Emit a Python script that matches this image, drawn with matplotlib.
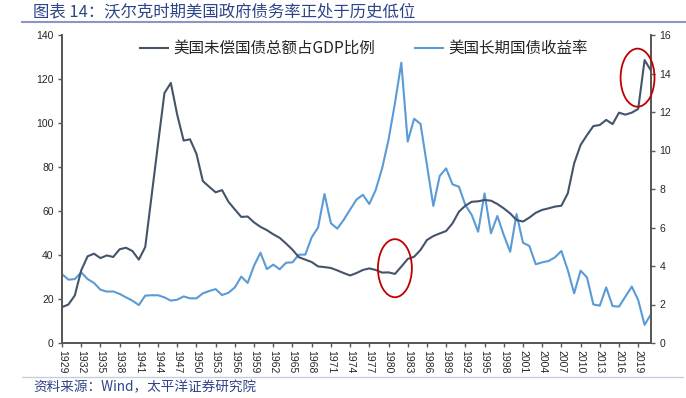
import matplotlib
matplotlib.use("Agg")
import matplotlib.pyplot as plt
from matplotlib.patches import Ellipse
from matplotlib.lines import Line2D

plt.rcParams['font.family'] = ['Liberation Sans', 'Noto Sans CJK SC', 'DejaVu Sans']

years = list(range(1929, 2022))
debt_gdp = [16.3, 17.5, 21.6, 33.0, 39.4, 40.6, 38.6, 39.8, 39.1, 42.6,
            43.3, 41.8, 37.9, 43.6, 67.0, 90.5, 113.6, 118.2, 103.7, 92.0,
            92.6, 86.0, 73.6, 71.0, 68.5, 69.5, 64.2, 60.7, 57.3, 57.5,
            54.8, 52.8, 51.3, 49.4, 47.8, 45.2, 42.4, 39.0, 37.9, 36.8,
            34.8, 34.5, 34.1, 33.0, 31.8, 30.7, 31.8, 33.2, 33.9, 33.2,
            32.0, 32.1, 31.4, 34.7, 38.2, 39.2, 42.3, 46.8, 48.6, 49.8,
            50.9, 54.4, 59.7, 62.4, 64.2, 64.4, 65.0, 64.7, 63.2, 61.2,
            58.9, 55.9, 55.2, 57.0, 59.2, 60.5, 61.2, 62.0, 62.4, 68.0,
            81.7, 90.0, 94.5, 98.6, 99.1, 101.4, 99.5, 104.7, 103.8, 104.7,
            106.4, 128.6, 123.8]
yield_10y = [3.58, 3.29, 3.32, 3.67, 3.32, 3.12, 2.77, 2.67, 2.68, 2.55,
             2.37, 2.20, 1.97, 2.46, 2.48, 2.48, 2.37, 2.20, 2.25, 2.42,
             2.32, 2.32, 2.58, 2.70, 2.80, 2.49, 2.61, 2.89, 3.45, 3.12,
             4.02, 4.69, 3.84, 4.07, 3.83, 4.17, 4.19, 4.59, 4.59, 5.49,
             6.00, 7.74, 6.22, 5.94, 6.40, 6.93, 7.45, 7.70, 7.22, 7.95,
             9.07, 10.55, 12.45, 14.56, 10.46, 11.65, 11.38, 9.25, 7.12, 8.68,
             9.07, 8.24, 8.12, 7.17, 6.65, 5.78, 7.77, 5.70, 6.60, 5.61,
             4.74, 6.70, 5.21, 5.04, 4.09, 4.19, 4.26, 4.45, 4.78, 3.79,
             2.58, 3.76, 3.41, 2.00, 1.94, 2.89, 1.92, 1.89, 2.41, 2.93,
             2.23, 0.94, 1.50]
xtick_years = list(range(1929, 2020, 3))
left_ticks = list(range(0, 141, 20))
right_ticks = list(range(0, 17, 2))

series_names = ['美国未偿国债总额占GDP比例', '美国长期国债收益率']
title_text = '图表 14：沃尔克时期美国政府债务率正处于历史低位'
source_text = '资料来源：Wind，太平洋证券研究院'

c_debt = '#44546A'
c_yield = '#5B9BD5'
c_axis = '#595959'
c_text = '#262626'
c_title = '#2E4488'

fig = plt.figure(figsize=(6.86, 3.98), dpi=100)
ax = fig.add_axes([62/686, 1-343/398, (651-62)/686, (343-35)/398])
ax2 = ax.twinx()

ax.plot(years, debt_gdp, color=c_debt, lw=1.5, zorder=3)
ax2.plot(years, yield_10y, color=c_yield, lw=1.5, zorder=3)

ax.set_xlim(1929, 2021)
ax.set_ylim(0, 140)
ax2.set_ylim(0, 16)
ax.set_yticks(left_ticks)
ax2.set_yticks(right_ticks)
ax.set_xticks(xtick_years)
ax.set_xticklabels([str(y) for y in xtick_years], rotation=-90)

for a in (ax, ax2):
    a.spines['top'].set_visible(False)
    for s in ('left', 'right', 'bottom'):
        a.spines[s].set_color(c_axis)
        a.spines[s].set_linewidth(1.4)
    a.tick_params(axis='both', direction='out', length=3, width=1,
                  color=c_axis, labelsize=7.5, labelcolor=c_text, pad=3)
ax.tick_params(axis='x', pad=2)

# highlight ellipses
for (cx, cy) in [(1981.0, 34.0), (2018.9, 120.6)]:
    e = Ellipse((cx, cy), width=5.3, height=26.4, fill=False,
                edgecolor='#C00000', lw=1.3, zorder=5, clip_on=False)
    ax.add_patch(e)
ax.set_zorder(ax2.get_zorder() + 1)
ax.patch.set_visible(False)

handles = [Line2D([], [], color=c_debt, lw=1.5), Line2D([], [], color=c_yield, lw=1.5)]
fig.legend(handles, series_names, loc='upper center', ncol=2,
           bbox_to_anchor=(364/686, 1-40/398), frameon=False,
           prop={'family': ['Noto Sans CJK SC', 'DejaVu Sans'], 'size': 11.2},
           handlelength=1.75, handletextpad=0.35, columnspacing=2.6,
           labelcolor=c_text, borderaxespad=0, borderpad=0)

fig.text(33/686, 1-12/398, title_text, fontsize=11.8, color=c_title,
         family=['Noto Sans CJK SC', 'DejaVu Sans'], va='center', ha='left')
fig.add_artist(Line2D([22/686, 1], [1-22/398, 1-22/398], color='#8C96C6', lw=1.5))
fig.add_artist(Line2D([22/686, 683/686], [1-377/398, 1-377/398], color='#C8CCE0', lw=1.0))
fig.text(33/686, 1-387/398, source_text, fontsize=9.8, color=c_title,
         family=['Noto Sans CJK SC', 'DejaVu Sans'], va='center', ha='left')

fig.savefig('out.png', dpi=100)
